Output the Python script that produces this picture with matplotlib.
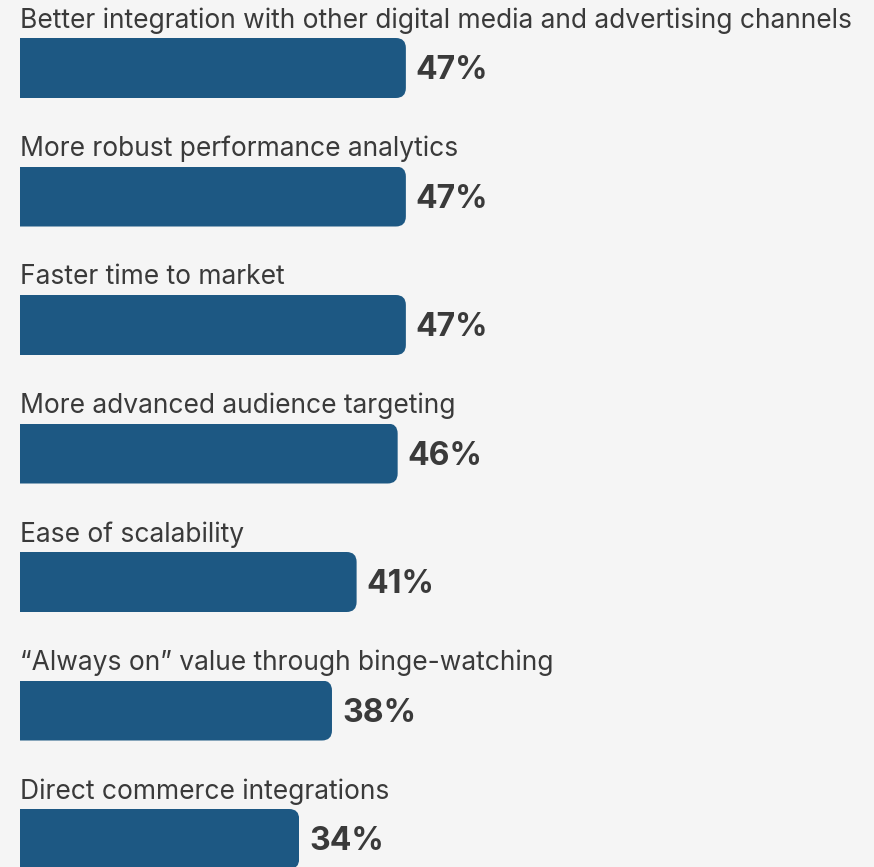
import matplotlib
matplotlib.use("Agg")
import matplotlib.pyplot as plt
from matplotlib.patches import FancyBboxPatch

categories = [
    "Better integration with other digital media and advertising channels",
    "More robust performance analytics",
    "Faster time to market",
    "More advanced audience targeting",
    "Ease of scalability",
    "\u201cAlways on\u201d value through binge-watching",
    "Direct commerce integrations",
]
values = [47, 47, 47, 46, 41, 38, 34]

BG = "#f5f5f5"
BAR = "#1d5883"
TEXT = "#3a3a3a"

W, H = 874, 867
px_per_pct = 8.21
row_px = 128.5
left_px = 20
center0_px = 68

fig = plt.figure(figsize=(W / 100, H / 100), dpi=100, facecolor=BG)
ax = fig.add_axes([0, 0, 1, 1])
ax.set_facecolor(BG)
ax.set_xlim(-left_px / px_per_pct, (W - left_px) / px_per_pct)
ax.set_ylim((H - center0_px) / row_px, -center0_px / row_px)
ax.axis("off")

bar_h = 60 / row_px
radius = 10 / px_per_pct
aspect = px_per_pct / row_px

# invisible bars used as clip regions so only the right end is rounded
bars = ax.barh(range(len(values)), values, height=bar_h, color=BAR, edgecolor="none")

for i, (rect, cat, v) in enumerate(zip(bars, categories, values)):
    rect.set_visible(False)
    p = FancyBboxPatch((-3 * radius, i - bar_h / 2), v + 3 * radius, bar_h,
                       boxstyle=f"round,pad=0,rounding_size={radius}",
                       mutation_aspect=aspect, fc=BAR, ec="none")
    ax.add_patch(p)
    p.set_clip_path(rect)
    ax.text(0, i - 0.37, cat, fontsize=19, family="Inter", color=TEXT,
            va="center", ha="left")
    ax.text(v + 10 / px_per_pct, i + 0.02, f"{v}%", fontsize=23, family="Inter",
            fontweight="bold", color=TEXT, va="center", ha="left")

fig.savefig("out.png", dpi=100, facecolor=BG)
